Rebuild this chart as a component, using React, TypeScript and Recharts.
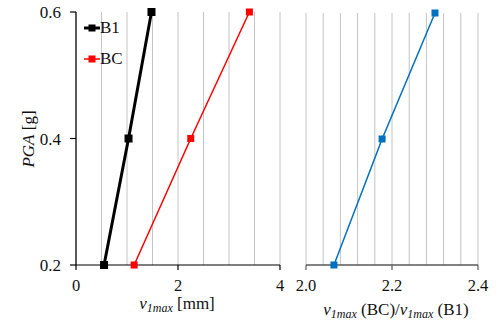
import { CartesianGrid, Legend, Line, LineChart, XAxis, YAxis } from 'recharts'

const pgaLevels = [0.2, 0.4, 0.6]
const b1Disp = [0.55, 1.03, 1.48]
const bcDisp = [1.14, 2.25, 3.4]
const dispRatio = [2.065, 2.177, 2.3]

const pgaTicks = [0.2, 0.4, 0.6]
const pgaGrid = [0.4]
const dispTicks = [0, 2, 4]
const dispGrid = [0, 0.5, 1, 1.5, 2, 2.5, 3, 3.5, 4]
const ratioTicks = [2.0, 2.2, 2.4]
const ratioGrid = [2.0, 2.04, 2.08, 2.12, 2.16, 2.2, 2.24, 2.28, 2.32, 2.36, 2.4]

const FONT = "'Liberation Serif', 'Times New Roman', serif"

const b1Data = pgaLevels.map((pga, i) => ({ pga, v: b1Disp[i] }))
const bcData = pgaLevels.map((pga, i) => ({ pga, v: bcDisp[i] }))
const ratioData = pgaLevels.map((pga, i) => ({ pga, r: dispRatio[i] }))

function squareDot(color: string, size: number) {
    return (props: any) => {
        const { cx, cy, index } = props
        if (cx == null || cy == null) return <g key={index} />
        return <rect key={index} x={cx - size / 2} y={cy - size / 2} width={size} height={size} fill={color} />
    }
}

// only the labelled values get a tick mark; the rest are just for the grid
function majorTick(major: number[], color: string, digits: number) {
    return (props: any) => {
        const { x, y, payload } = props
        if (!major.some((m) => Math.abs(m - payload.value) < 1e-9)) return <g />
        const axisY = y - 14
        return (
            <g>
                <line x1={x} x2={x} y1={axisY} y2={axisY + 5} stroke={color} strokeWidth={1.2} />
                <text x={x} y={y} dy="0.71em" textAnchor="middle" fontSize={16.5} style={{ fontFamily: FONT }} fill="#111">
                    {payload.value.toFixed(digits)}
                </text>
            </g>
        )
    }
}

function hGrid(values: number[]) {
    return ({ yAxis }: any) => {
        try {
            return values.map((v) => yAxis.scale(v))
        } catch {
            return []
        }
    }
}

function LegendBox({ payload }: any) {
    return (
        <div style={{ fontFamily: FONT, fontSize: 17, color: '#111', whiteSpace: 'nowrap', width: 60 }}>
            {(payload ?? []).map((item: any) => (
                <div key={item.value} style={{ display: 'flex', alignItems: 'center', height: 31 }}>
                    <svg width={16} height={10} style={{ flexShrink: 0, display: 'block' }}>
                        <line x1={0} x2={16} y1={5} y2={5} stroke={item.color} strokeWidth={item.value === 'B1' ? 3 : 1.5} />
                        <rect x={4.5} y={1.5} width={7} height={7} fill={item.color} />
                    </svg>
                    <span>{item.value}</span>
                </div>
            ))}
        </div>
    )
}

export default function App() {
    return (
        <div style={{ position: 'absolute', left: 0, top: 0, width: 499, height: 325, background: '#fff', fontFamily: FONT }}>
            <div style={{ position: 'absolute', left: 0, top: 0 }}>
                <LineChart width={290} height={325} margin={{ top: 12, right: 10, left: 0, bottom: 0 }} style={{ fontFamily: FONT }}>
                    <CartesianGrid stroke="#e2e2e2" vertical={false} horizontalCoordinatesGenerator={hGrid(pgaGrid)} />
                    <CartesianGrid stroke="#c4c4c4" horizontal={false} />
                    <XAxis
                        dataKey="v"
                        type="number"
                        domain={[0, 4]}
                        ticks={dispGrid}
                        interval={0}
                        height={60}
                        tickSize={5}
                        tickMargin={9}
                        tickLine={false}
                        axisLine={{ stroke: '#000', strokeWidth: 1.2 }}
                        tick={majorTick(dispTicks, '#000', 0)}
                    />
                    <YAxis
                        dataKey="pga"
                        type="number"
                        domain={[0.2, 0.6]}
                        ticks={pgaTicks}
                        width={76}
                        tickSize={6}
                        tickMargin={9}
                        axisLine={{ stroke: '#000', strokeWidth: 1.2 }}
                        tickLine={{ stroke: '#000', strokeWidth: 1.2 }}
                        tick={{ fontSize: 17, fill: '#111', style: { fontFamily: FONT } }}
                        tickFormatter={(v: number) => v.toFixed(1)}
                    />
                    <Legend
                        layout="vertical"
                        verticalAlign="top"
                        align="left"
                        content={<LegendBox />}
                        wrapperStyle={{ left: 84, top: 12, width: 0, height: 0, overflow: 'visible' }}
                    />
                    <Line
                        data={bcData}
                        dataKey="pga"
                        name="BC"
                        stroke="#ff0000"
                        strokeWidth={1.5}
                        dot={squareDot('#ff0000', 7)}
                        isAnimationActive={false}
                    />
                    <Line
                        data={b1Data}
                        dataKey="pga"
                        name="B1"
                        stroke="#000"
                        strokeWidth={3}
                        dot={squareDot('#000', 8)}
                        isAnimationActive={false}
                    />
                </LineChart>
            </div>
            <div style={{ position: 'absolute', left: 290, top: 0 }}>
                <LineChart width={209} height={325} margin={{ top: 13, right: 21, left: 16, bottom: 0 }} style={{ fontFamily: FONT }}>
                    <CartesianGrid stroke="#e2e2e2" vertical={false} horizontalCoordinatesGenerator={hGrid(pgaGrid)} />
                    <CartesianGrid stroke="#c4c4c4" horizontal={false} />
                    <XAxis
                        dataKey="r"
                        type="number"
                        domain={[2.0, 2.4]}
                        ticks={ratioGrid}
                        interval={0}
                        height={60}
                        tickSize={5}
                        tickMargin={9}
                        tickLine={false}
                        axisLine={{ stroke: '#595959', strokeWidth: 1.5 }}
                        tick={majorTick(ratioTicks, '#595959', 1)}
                    />
                    <YAxis dataKey="pga" type="number" domain={[0.2, 0.6]} ticks={pgaTicks} hide />
                    <Line
                        data={ratioData}
                        dataKey="pga"
                        name="ratio"
                        stroke="#0070c0"
                        strokeWidth={1.5}
                        dot={squareDot('#0070c0', 7)}
                        isAnimationActive={false}
                    />
                </LineChart>
            </div>
            <svg
                width={499}
                height={325}
                style={{ position: 'absolute', left: 0, top: 0, pointerEvents: 'none', fontFamily: FONT }}
                fill="#111"
            >
                <text transform="rotate(-90 28 139)" x={28} y={139} textAnchor="middle" dominantBaseline="central" fontSize={17}>
                    <tspan fontStyle="italic">PGA</tspan>
                    <tspan> [g]</tspan>
                </text>
                <text x={177} y={309} textAnchor="middle" fontSize={17}>
                    <tspan fontStyle="italic">v</tspan>
                    <tspan fontStyle="italic" fontSize={12} dy={3}>1max</tspan>
                    <tspan dy={-3}> [mm]</tspan>
                </text>
                <text x={396} y={315} textAnchor="middle" fontSize={17}>
                    <tspan fontStyle="italic">v</tspan>
                    <tspan fontStyle="italic" fontSize={12} dy={3}>1max</tspan>
                    <tspan dy={-3}> (BC)/</tspan>
                    <tspan fontStyle="italic">v</tspan>
                    <tspan fontStyle="italic" fontSize={12} dy={3}>1max</tspan>
                    <tspan dy={-3}> (B1)</tspan>
                </text>
            </svg>
        </div>
    )
}
